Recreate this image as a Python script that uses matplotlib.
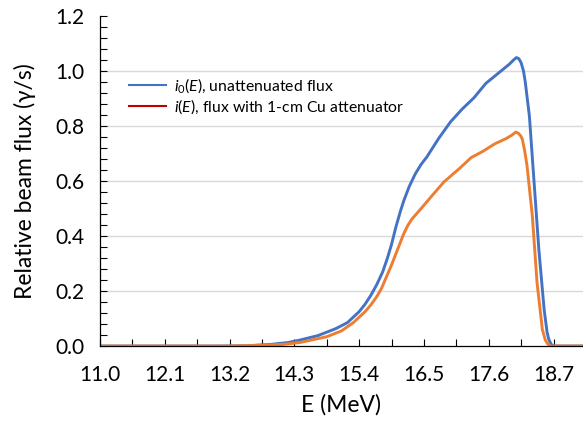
import numpy as np
import matplotlib.pyplot as plt
from matplotlib.lines import Line2D
from matplotlib.ticker import MultipleLocator

plt.rcParams['font.family'] = ['Lato', 'DejaVu Sans']
plt.rcParams['mathtext.fontset'] = 'custom'
plt.rcParams['mathtext.it'] = 'Lato:italic'
plt.rcParams['mathtext.rm'] = 'Lato'

# unattenuated flux i0(E)
e_blue = [11.0, 13.0, 13.5, 13.9, 14.2, 14.4, 14.7, 15.0, 15.2, 15.4, 15.5, 15.6, 15.7,
          15.8, 15.88, 15.95, 16.02, 16.1, 16.16, 16.25, 16.35, 16.45, 16.55, 16.75,
          16.95, 17.15, 17.35, 17.55, 17.75, 17.95, 18.02, 18.07, 18.11, 18.15, 18.19,
          18.22, 18.29, 18.37, 18.45, 18.54, 18.59, 18.62, 18.66, 18.7, 19.2]
i0 = [0, 0, 0.001, 0.006, 0.013, 0.022, 0.038, 0.063, 0.085, 0.125, 0.152, 0.185, 0.224,
      0.27, 0.32, 0.37, 0.43, 0.49, 0.53, 0.58, 0.625, 0.66, 0.688, 0.755,
      0.815, 0.862, 0.903, 0.955, 0.99, 1.025, 1.04, 1.049, 1.045, 1.03, 1.0,
      0.96, 0.836, 0.594, 0.352, 0.133, 0.05, 0.024, 0.006, 0.0, 0.0]

# flux with 1-cm Cu attenuator i(E)
e_orange = [11.0, 13.2, 13.6, 14.1, 14.4, 14.85, 15.1, 15.3, 15.5, 15.6, 15.7, 15.78,
            15.85, 15.95, 16.05, 16.16, 16.23, 16.3, 16.44, 16.65, 16.84, 17.1, 17.3,
            17.5, 17.7, 17.9, 18.0, 18.06, 18.1, 18.14, 18.17, 18.21, 18.25, 18.34,
            18.42, 18.51, 18.56, 18.6, 18.65, 19.2]
i_att = [0, 0, 0.002, 0.006, 0.013, 0.034, 0.055, 0.085, 0.125, 0.15, 0.18, 0.21,
         0.245, 0.295, 0.35, 0.41, 0.44, 0.463, 0.497, 0.55, 0.597, 0.645, 0.685,
         0.708, 0.735, 0.755, 0.768, 0.778, 0.774, 0.765, 0.752, 0.71, 0.655, 0.473,
         0.23, 0.06, 0.022, 0.008, 0.0, 0.0]

xticks = [11.0, 12.1, 13.2, 14.3, 15.4, 16.5, 17.6, 18.7]
yticks = [0.0, 0.2, 0.4, 0.6, 0.8, 1.0, 1.2]

fig = plt.figure(figsize=(5.83, 4.22), dpi=100)
ax = fig.add_axes([0.1715, 0.18, 0.8285, 0.782])

ax.hlines(yticks[1:-1], 11.0, 19.2, color='#d9d9d9', lw=1.0, zorder=0)
ax.plot(e_blue, i0, color='#4472C4', lw=2.1, solid_joinstyle='round')
ax.plot(e_orange, i_att, color='#ED7D31', lw=2.1, solid_joinstyle='round')

ax.set_xlim(11.0, 19.2)
ax.set_ylim(0, 1.2)
ax.set_xticks(xticks)
ax.set_xticklabels([f'{v:.1f}' for v in xticks])
ax.set_yticks(yticks)
ax.set_yticklabels([f'{v:.1f}' for v in yticks])
ax.xaxis.set_minor_locator(MultipleLocator(0.55))
ax.yaxis.set_minor_locator(MultipleLocator(0.04))
ax.tick_params(which='both', direction='in', length=5, width=0.8, labelsize=15)
ax.tick_params(axis='x', pad=14)
ax.tick_params(axis='y', pad=11)

for s in ['top', 'right']:
    ax.spines[s].set_visible(False)
ax.spines['left'].set_linewidth(0.9)
ax.spines['bottom'].set_linewidth(0.9)

ax.set_xlabel('E (MeV)', fontsize=16.5, labelpad=6)
ax.set_ylabel('Relative beam flux (γ/s)', fontsize=16.5, labelpad=14)

handles = [Line2D([], [], color='#4472C4', lw=1.5),
           Line2D([], [], color='#C00000', lw=1.5)]
labels = [r'$i_0(E)$, unattenuated flux', r'$i(E)$, flux with 1-cm Cu attenuator']
ax.legend(handles, labels, loc='upper left', bbox_to_anchor=(0.03, 0.86),
          frameon=False, fontsize=11.3, handlelength=2.4, handletextpad=0.5,
          labelspacing=0.15)

fig.savefig('out.png', dpi=100)
